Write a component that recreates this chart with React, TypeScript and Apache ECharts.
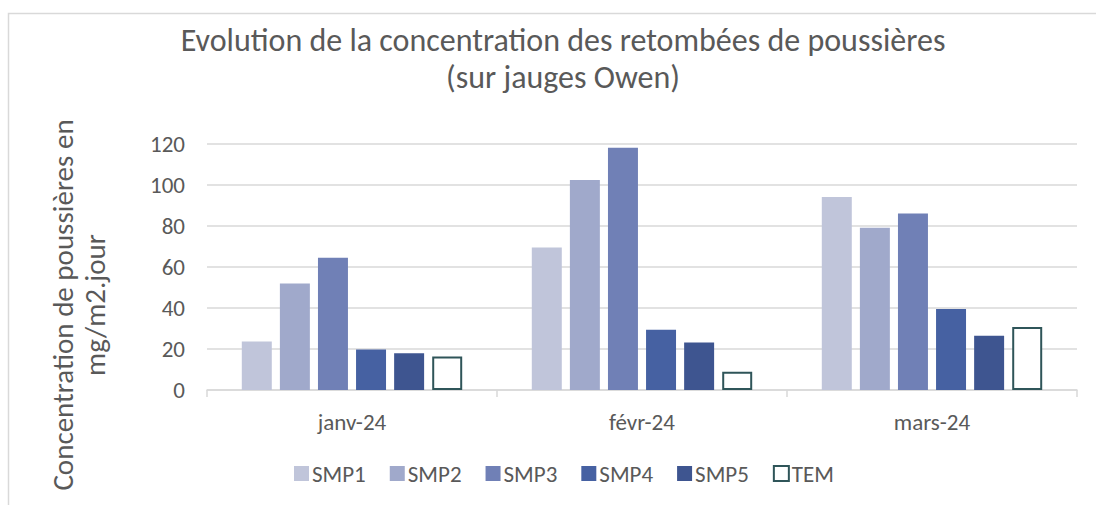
import React, { useEffect, useRef } from "react";
import * as echarts from "echarts";

const categories = ["janv-24", "févr-24", "mars-24"];
const seriesNames = ["SMP1", "SMP2", "SMP3", "SMP4", "SMP5", "TEM"];
const smp1 = [23.6, 69.5, 94.1];
const smp2 = [52.0, 102.4, 79.1];
const smp3 = [64.5, 118.2, 86.1];
const smp4 = [19.8, 29.4, 39.5];
const smp5 = [17.9, 23.2, 26.5];
const tem = [16.3, 8.9, 30.7];
const yTicks = { min: 0, max: 120, interval: 20 };
const colors = ["#c0c5da", "#a0a9cb", "#7080b6", "#4661a2", "#3e5590", "#ffffff"];
const yAxisTitle = "Concentration de poussières en\nmg/m2.jour";

export default function App() {
  const ref = useRef<HTMLDivElement>(null);
  useEffect(() => {
    if (!ref.current) return;
    const chart = echarts.init(ref.current, null, { renderer: "svg" });
    const values = [smp1, smp2, smp3, smp4, smp5, tem];
    const font = "Carlito, Lato";
    chart.setOption({
      animation: false,
      backgroundColor: "#ffffff",
      textStyle: { fontFamily: font },
      graphic: [
        {
          type: "rect",
          shape: { x: 8.5, y: 13.5, width: 1200, height: 600 },
          style: { fill: "none", stroke: "#d9d9d9", lineWidth: 1.5 },
          silent: true,
        },
        {
          type: "text",
          x: 79,
          y: 305,
          rotation: Math.PI / 2,
          silent: true,
          style: {
            text: yAxisTitle,
            align: "center",
            verticalAlign: "middle",
            fontFamily: font,
            fontSize: 29,
            lineHeight: 32,
            fill: "#595959",
          },
        },
      ],
      title: {
        text: "Evolution de la concentration des retombées de poussières\n(sur jauges Owen)",
        left: 558,
        textAlign: "center",
        top: 17,
        textStyle: {
          fontFamily: font,
          fontSize: 32,
          fontWeight: "normal",
          color: "#595959",
          lineHeight: 37,
        },
      },
      legend: {
        bottom: 15,
        left: 289,
        itemWidth: 15,
        itemHeight: 15,
        itemGap: 24,
        icon: "rect",
        textStyle: { fontFamily: font, fontSize: 23, color: "#595959", padding: [0, 0, 0, -2] },
        data: seriesNames,
      },
      grid: { left: 207, right: 19, top: 144, bottom: 115 },
      xAxis: {
        type: "category",
        data: categories,
        axisLine: { lineStyle: { color: "#d9d9d9", width: 1.5 } },
        axisTick: { show: true, length: 7, lineStyle: { color: "#d9d9d9", width: 1.5 } },
        axisLabel: { fontFamily: font, fontSize: 23, color: "#595959", margin: 20 },
      },
      yAxis: {
        type: "value",
        min: yTicks.min,
        max: yTicks.max,
        interval: yTicks.interval,
        axisLine: { show: false },
        axisTick: { show: false },
        splitLine: { lineStyle: { color: "#d9d9d9", width: 1.5 } },
        axisLabel: { fontFamily: font, fontSize: 23, color: "#595959", margin: 22 },
      },
      series: seriesNames.map((name, i) => ({
        name,
        type: "bar",
        data: values[i],
        barGap: "27%",
        barCategoryGap: "24%",
        itemStyle:
          name === "TEM"
            ? { color: "#ffffff", borderColor: "#2f5559", borderWidth: 2 }
            : { color: colors[i] },
      })),
    });
    return () => chart.dispose();
  }, []);
  return (
    <div
      ref={ref}
      style={{ position: "fixed", left: 0, top: 0, width: 1096, height: 505 }}
    />
  );
}
